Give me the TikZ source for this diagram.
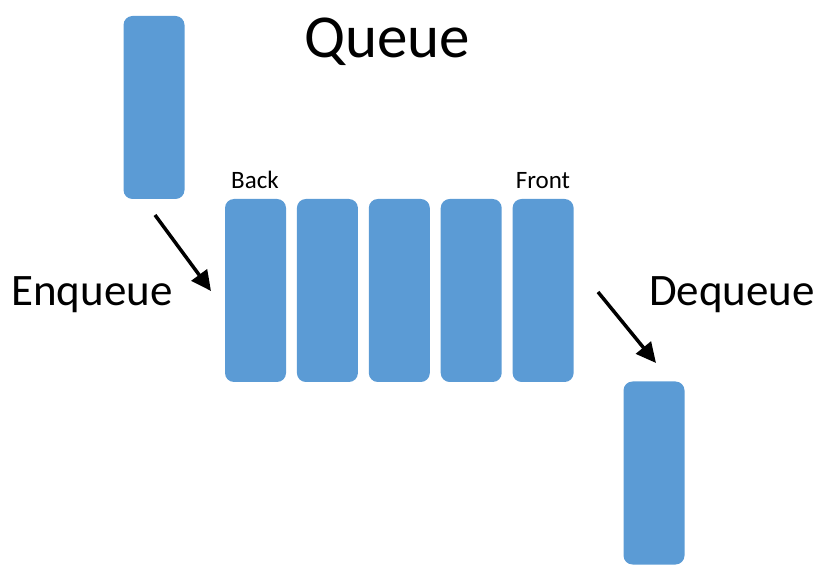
\documentclass[tikz,border=0pt]{standalone}
\usepackage{fontspec}
\setmainfont{Carlito}
\usetikzlibrary{arrows.meta, positioning}
\definecolor{barblue}{HTML}{5B9BD5}

\begin{document}
\begin{tikzpicture}
        [x=1pt, y=-1pt, node distance=10.5pt,
        bar/.style={rectangle, rounded corners=9pt, fill=barblue, minimum width=61pt, minimum height=183pt, inner sep=0pt},
        push/.style={-{Triangle[length=20pt, width=19pt]}, line width=3.5pt, black}]
        \useasboundingbox (0,0) rectangle (828,577);

        \node[font=\fontsize{61}{70}\selectfont]  (title)  at (387,42) {Queue};

        % the queue itself, back to front
        \node[bar]  (b1)  at (255.5,290.5) {};
        \node[bar]  (b2)  [right = of b1] {};
        \node[bar]  (b3)  [right = of b2] {};
        \node[bar]  (b4)  [right = of b3] {};
        \node[bar]  (b5)  [right = of b4] {};

        \node[font=\fontsize{25}{30}\selectfont, anchor=base]  (back)   at (255,189) {Back};
        \node[font=\fontsize{25}{30}\selectfont, anchor=base]  (front)  at (543,189) {Front};

        % incoming and outgoing items
        \node[bar]  (inbar)   at (154,107.5) {};
        \node[bar]  (outbar)  at (654,473) {};

        \node[font=\fontsize{45}{54}\selectfont]  (enq)  at (92,295) {Enqueue};
        \node[font=\fontsize{45}{54}\selectfont]  (deq)  at (732,295) {Dequeue};

        \coordinate (enqfrom) at (155,215);
        \coordinate (enqto)   at (211,291);
        \coordinate (deqfrom) at (598,292);
        \coordinate (deqto)   at (656,363);

        \draw[push] (enqfrom) -- (enqto);
        \draw[push] (deqfrom) -- (deqto);
\end{tikzpicture}
\end{document}
